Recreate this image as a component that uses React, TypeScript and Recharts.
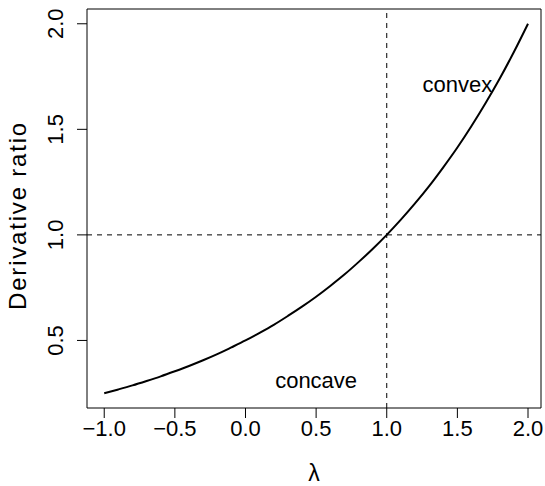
import React from 'react';
import { LineChart, Line, XAxis, YAxis, ReferenceLine, ReferenceArea, ReferenceDot, Label } from 'recharts';

// lambda values and the derivative ratio
const lambdas = [-1.0, -0.9, -0.8, -0.7, -0.6, -0.5, -0.4, -0.3, -0.2, -0.1, 0.0, 0.1, 0.2, 0.3, 0.4, 0.5, 0.6, 0.7, 0.8, 0.9, 1.0, 1.1, 1.2, 1.3, 1.4, 1.5, 1.6, 1.7, 1.8, 1.9, 2.0];
const ratios = [0.25, 0.268, 0.287, 0.308, 0.33, 0.354, 0.379, 0.406, 0.435, 0.467, 0.5, 0.536, 0.574, 0.616, 0.66, 0.707, 0.758, 0.812, 0.871, 0.933, 1.0, 1.072, 1.149, 1.231, 1.32, 1.414, 1.516, 1.625, 1.741, 1.866, 2.0];
const xTicks = [-1, -0.5, 0, 0.5, 1, 1.5, 2];
const yTicks = [0.5, 1, 1.5, 2];
const xDomain = [-1.122, 2.092];
const yDomain = [0.18, 2.07];

const data = lambdas.map((l, i) => ({ lambda: l, ratio: ratios[i] }));

const FONT = '"Liberation Sans", Arial, Helvetica, sans-serif';
const fmt = (v: number) => v.toFixed(1).replace('-', '\u2212');

const XTick = ({ x, y, payload }: any) => (
    <text x={x} y={y + 16} textAnchor="middle" fontSize={22} fontFamily={FONT} fill="#000">
        {fmt(payload.value)}
    </text>
);

const YTick = ({ x, y, payload }: any) => (
    <text x={x} y={y} transform={`rotate(-90 ${x} ${y})`} textAnchor="middle" fontSize={22} fontFamily={FONT} fill="#000">
        {fmt(payload.value)}
    </text>
);

const XTitle = ({ viewBox }: any) => (
    <text x={viewBox.x + viewBox.width / 2} y={481} textAnchor="middle" fontSize={23} fontFamily={FONT} fill="#000">
        λ
    </text>
);

const YTitle = ({ viewBox }: any) => {
    const cy = viewBox.y + viewBox.height / 2 + 7;
    return (
        <text x={26} y={cy} transform={`rotate(-90 26 ${cy})`} textAnchor="middle" fontSize={24} letterSpacing={1.8} fontFamily={FONT} fill="#000">
            Derivative ratio
        </text>
    );
};

const NoteLabel = (text: string) => ({ viewBox }: any) => (
    <text x={viewBox.x + viewBox.width / 2} y={viewBox.y + viewBox.height / 2 + 5} textAnchor="middle" fontSize={22} fontFamily={FONT} fill="#000">
        {text}
    </text>
);

export default function App() {
    return (
        <div style={{ position: 'absolute', left: 0, top: 0, background: '#fff' }}>
            <LineChart width={545} height={486} data={data} margin={{ top: 9, right: 4, bottom: 0, left: 0 }}>
                <XAxis
                    dataKey="lambda"
                    type="number"
                    domain={xDomain}
                    ticks={xTicks}
                    allowDataOverflow
                    height={78}
                    axisLine={false}
                    tickSize={10}
                    tickLine={{ stroke: '#000' }}
                    tick={<XTick />}
                    interval={0}
                >
                    <Label content={<XTitle />} />
                </XAxis>
                <YAxis
                    type="number"
                    domain={yDomain}
                    ticks={yTicks}
                    allowDataOverflow
                    width={87}
                    axisLine={false}
                    tickSize={10}
                    tickMargin={14}
                    tickLine={{ stroke: '#000' }}
                    tick={<YTick />}
                    interval={0}
                >
                    <Label content={<YTitle />} />
                </YAxis>
                <ReferenceArea x1={xDomain[0]} x2={xDomain[1]} y1={yDomain[0]} y2={yDomain[1]} fill="none" stroke="#000" strokeWidth={1} ifOverflow="visible" />
                <ReferenceLine x={1} stroke="#000" strokeDasharray="5 5" strokeWidth={1} />
                <ReferenceLine y={1} stroke="#000" strokeDasharray="5 5" strokeWidth={1} />
                <ReferenceDot x={1.5} y={1.7} r={0} stroke="none" label={NoteLabel('convex')} />
                <ReferenceDot x={0.5} y={0.3} r={0} stroke="none" label={NoteLabel('concave')} />
                <Line type="monotone" dataKey="ratio" stroke="#000" strokeWidth={2} dot={false} isAnimationActive={false} />
            </LineChart>
        </div>
    );
}
